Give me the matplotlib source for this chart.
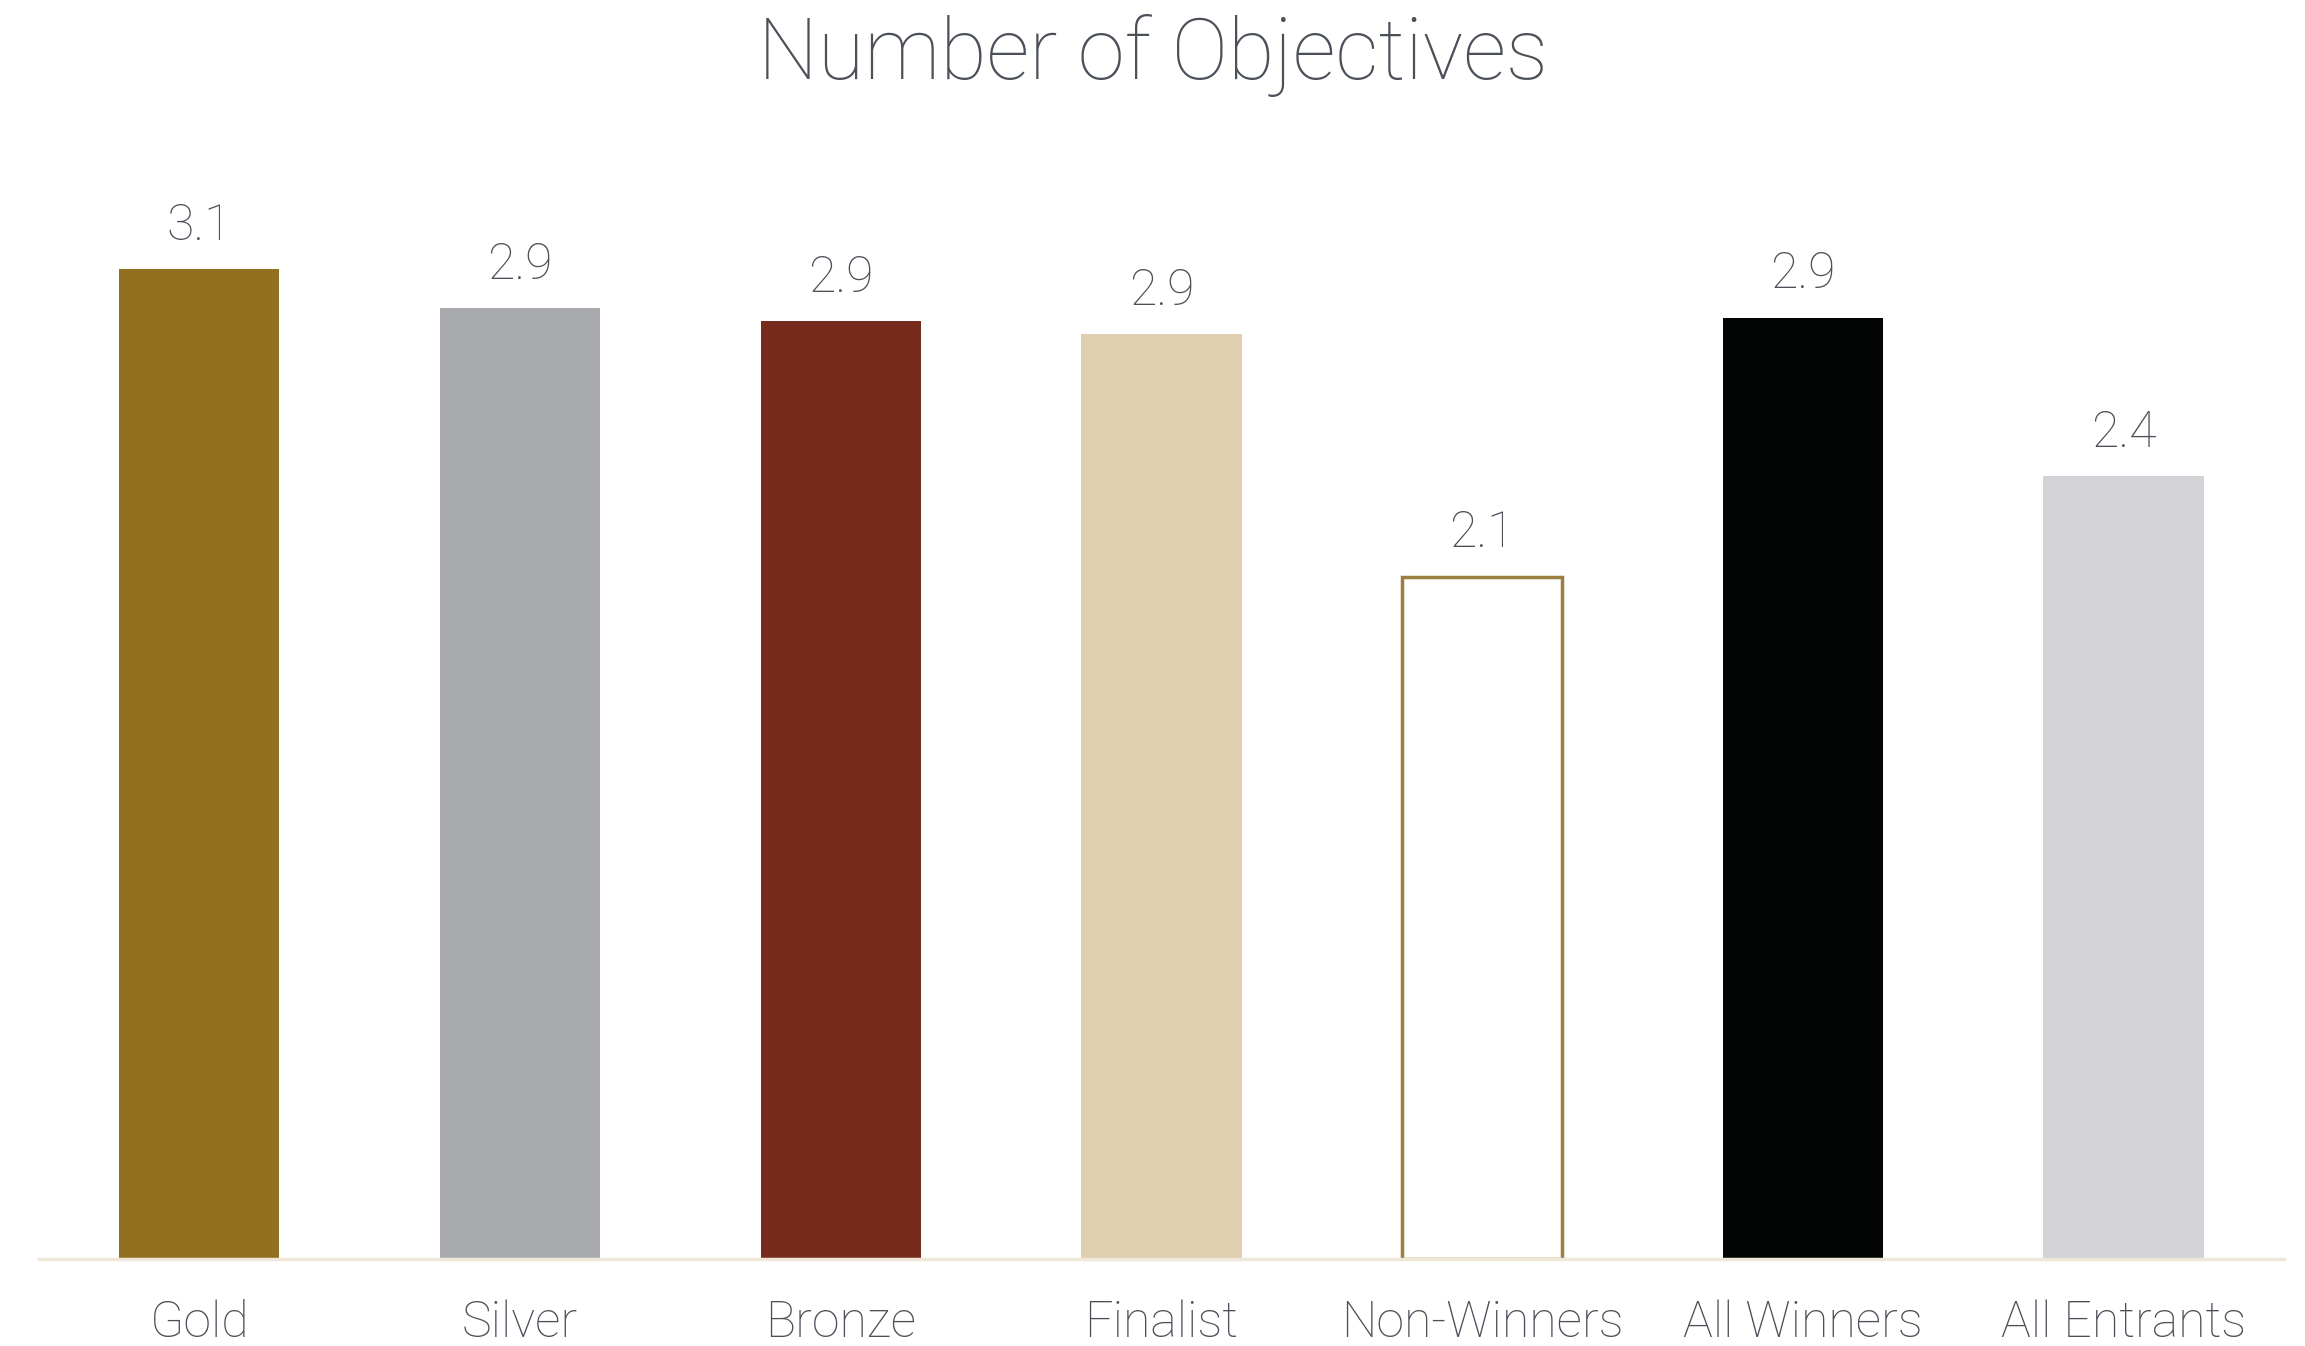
import matplotlib
matplotlib.use("Agg")
import matplotlib.pyplot as plt

categories = ["Gold", "Silver", "Bronze", "Finalist", "Non-Winners", "All Winners", "All Entrants"]
objectives = [3.06, 2.94, 2.90, 2.86, 2.11, 2.91, 2.42]
bar_colors = ["#936f20", "#a9aaad", "#762b1c", "#dfceb0", "#ffffff", "#020504", "#d4d3d8"]
edge_colors = ["none", "none", "none", "none", "#9b7f3f", "none", "none"]

text_color = "#4b5059"
plt.rcParams["font.family"] = ["Roboto", "DejaVu Sans"]
plt.rcParams["font.weight"] = "light"

fig = plt.figure(figsize=(23.05, 13.46), dpi=100)
ax = fig.add_axes([0.0169, 0.0646, 0.974, 0.841])

x = range(len(categories))
bars = ax.bar(x, objectives, width=0.5, color=bar_colors,
              edgecolor=edge_colors, linewidth=2.5, zorder=2)

for b, v in zip(bars, objectives):
    ax.annotate(f"{v:.1f}", (b.get_x() + b.get_width() / 2, v),
                xytext=(0, 14), textcoords="offset points",
                ha="center", va="bottom", fontsize=36,
                color=text_color)

ax.set_xlim(-0.5, len(categories) - 0.5)
ax.set_ylim(0, 3.5)
ax.set_xticks(list(x))
ax.set_xticklabels(categories, fontsize=36, color=text_color)
ax.tick_params(axis="x", length=0, pad=29)
ax.set_yticks([])

for side in ["top", "right", "left"]:
    ax.spines[side].set_visible(False)
ax.spines["bottom"].set_color("#efe8d8")
ax.spines["bottom"].set_linewidth(2.5)

fig.text(0.5, 0.959, "Number of Objectives", ha="center", va="center",
         fontsize=61, color=text_color)

fig.savefig("out.png", dpi=100, facecolor="white")
